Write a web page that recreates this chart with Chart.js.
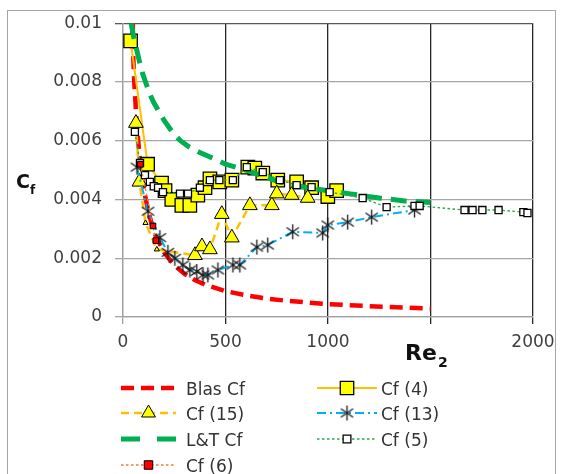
<!DOCTYPE html>
<html>
<head>
<meta charset="utf-8">
<script src="https://cdn.jsdelivr.net/npm/chart.js@4/dist/chart.umd.min.js"></script>
<style>
  html, body { margin: 0; padding: 0; background: #fff; }
  #wrap { position: relative; width: 566px; height: 474px; overflow: hidden; }
  #chart, #keys { position: absolute; left: 0; top: 0; }
  #keys { pointer-events: none; }
  #frame { position: absolute; left: 7px; top: 10px; width: 549px; height: 480px; border: 1px solid #a6a6a6; box-sizing: border-box; pointer-events: none; }
  .t { position: absolute; font-family: "DejaVu Sans", sans-serif; line-height: 1; white-space: nowrap; }
  .ttl { font-weight: bold; color: #111; }
  .key { font-size: 17px; color: #333; }
</style>
</head>
<body>
<div id="wrap">
  <canvas id="chart" width="566" height="474"></canvas>
  <canvas id="keys" width="566" height="474"></canvas>
  <div id="frame"></div>
  <div class="t ttl" style="left:16px; top:172px; font-size:19px;">C</div>
  <div class="t ttl" style="left:30px; top:184px; font-size:12px;">f</div>
  <div class="t ttl" style="left:405px; top:342px; font-size:22px;">Re</div>
  <div class="t ttl" style="left:438px; top:355px; font-size:14px;">2</div>
  <div id="keyText"></div>
</div>
<script>
// Series data (Re2 vs Cf)
const seriesLabels = ['Blas Cf', 'Cf (4)', 'Cf (15)', 'Cf (13)', 'L&T Cf', 'Cf (5)', 'Cf (6)'];

const blasRe = [44, 48, 55, 65, 74, 85, 100, 120, 150, 200, 250, 300, 350, 400, 500, 600, 700, 800, 1000, 1200, 1500];
const blasCf = [0.0100, 0.0092, 0.0080, 0.0068, 0.0060, 0.0052, 0.0044, 0.0037, 0.0029, 0.0022, 0.00176, 0.00147, 0.00126, 0.0011, 0.00088, 0.00074, 0.00063, 0.00055, 0.00044, 0.00037, 0.00029];

const cf4Re = [37, 120, 188, 205, 238, 287, 326, 365, 400, 424, 472, 531, 609, 643, 682, 755, 847, 920, 999, 1042];
const cf4Cf = [0.0094, 0.0052, 0.00456, 0.0043, 0.0040, 0.0038, 0.0038, 0.00415, 0.0044, 0.0047, 0.0046, 0.00466, 0.0051, 0.00507, 0.0049, 0.00466, 0.0046, 0.0044, 0.0041, 0.0043];

const cf15Re = [63, 80, 110, 165, 351, 385, 424, 482, 531, 619, 726, 750, 823, 901];
const cf15Cf = [0.0066, 0.0046, 0.0032, 0.0023, 0.0021, 0.0024, 0.0023, 0.0035, 0.0027, 0.0038, 0.0038, 0.0042, 0.00415, 0.00405];

const cf13Re = [68, 122, 180, 219, 253, 292, 326, 360, 390, 414, 463, 536, 570, 653, 706, 828, 974, 999, 1096, 1213, 1422];
const cf13Cf = [0.0051, 0.0036, 0.0027, 0.0022, 0.0020, 0.00177, 0.0016, 0.00155, 0.00143, 0.00143, 0.0016, 0.00177, 0.00177, 0.00238, 0.00245, 0.0029, 0.00286, 0.00313, 0.00323, 0.0034, 0.00364];

const ltRe = [40, 50, 60, 70, 80, 95, 110, 130, 150, 175, 200, 240, 280, 320, 375, 440, 500, 550, 600, 680, 760, 830, 900, 1000, 1100, 1250, 1375, 1500];
const ltCf = [0.0100, 0.0096, 0.0093, 0.0090, 0.0087, 0.0083, 0.0080, 0.0076, 0.0073, 0.0070, 0.0067, 0.0063, 0.0060, 0.0058, 0.0056, 0.0054, 0.0052, 0.0051, 0.0050, 0.0048, 0.0046, 0.0045, 0.0044, 0.0043, 0.0042, 0.00405, 0.00395, 0.0039];

const cf5Re = [58, 83, 107, 131, 150, 171, 195, 278, 317, 375, 424, 470, 536, 604, 682, 765, 847, 920, 1008, 1169, 1286, 1422, 1447, 1666, 1705, 1753, 1832, 1953, 1973];
const cf5Cf = [0.0063, 0.00524, 0.00483, 0.0046, 0.00445, 0.0044, 0.00425, 0.0042, 0.0042, 0.0044, 0.00466, 0.00466, 0.00466, 0.0051, 0.00493, 0.00466, 0.00449, 0.00442, 0.00425, 0.00405, 0.00374, 0.00378, 0.00378, 0.00364, 0.00364, 0.00364, 0.00364, 0.00357, 0.00354];

const cf6Re = [85, 146, 160];
const cf6Cf = [0.0052, 0.0031, 0.0026];

const xTicks = [0, 500, 1000, 1500, 2000];
const yTicks = [0, 0.002, 0.004, 0.006, 0.008, 0.01];

function pts(xs, ys) {
  return xs.map((x, i) => ({ x: x, y: ys[i] }));
}

// six-armed asterisk marker for Cf (13)
function makeAsterisk(size) {
  const c = document.createElement('canvas');
  c.width = size; c.height = size;
  const g = c.getContext('2d');
  const m = size / 2, r = size / 2 - 1;
  g.strokeStyle = '#1a1a1a';
  g.lineWidth = 1.3;
  [90, 35, 145].forEach(a => {
    const t = a * Math.PI / 180;
    g.beginPath();
    g.moveTo(m - r * Math.cos(t), m - r * Math.sin(t));
    g.lineTo(m + r * Math.cos(t), m + r * Math.sin(t));
    g.stroke();
  });
  return c;
}
const asterisk = makeAsterisk(17);

const ORANGE = '#FFC000';
const GREEN = '#00B050';
const BLUE = '#00B0F0';
const RED = '#FF0000';

const BLAS_DASH = [13, 7];
const LT_DASH = [16, 9];

// Excel series order (legend order)
const series = [
  {
    label: seriesLabels[0], data: pts(blasRe, blasCf),
    borderColor: RED, borderWidth: 4.5,
    segment: { borderDash: () => BLAS_DASH },
    pointRadius: 0
  },
  {
    label: seriesLabels[1], data: pts(cf4Re, cf4Cf),
    borderColor: ORANGE, borderWidth: 2,
    pointStyle: 'rect', pointRadius: 9.5, pointBackgroundColor: '#FFFF00',
    pointBorderColor: '#000', pointBorderWidth: 1.3
  },
  {
    label: seriesLabels[2], data: pts(cf15Re, cf15Cf),
    borderColor: ORANGE, borderWidth: 2.5, borderDash: [8, 5],
    pointStyle: 'triangle', pointRadius: c => (c.dataIndex === 2 || c.dataIndex === 3) ? 3 : 8.5,
    pointBackgroundColor: '#FFFF00', pointBorderColor: '#000', pointBorderWidth: 1
  },
  {
    label: seriesLabels[3], data: pts(cf13Re, cf13Cf),
    borderColor: BLUE, borderWidth: 2, borderDash: [9, 4, 2, 4],
    pointStyle: asterisk, pointRadius: 8
  },
  {
    label: seriesLabels[4], data: pts(ltRe, ltCf),
    borderColor: GREEN, borderWidth: 5,
    segment: { borderDash: () => LT_DASH },
    pointRadius: 0
  },
  {
    label: seriesLabels[5], data: pts(cf5Re, cf5Cf),
    borderColor: '#2BA84A', borderWidth: 1.4, borderDash: [2.5, 2.5],
    pointStyle: 'rect', pointRadius: 5, pointBackgroundColor: '#fff',
    pointBorderColor: '#000', pointBorderWidth: 1.3
  },
  {
    label: seriesLabels[6], data: pts(cf6Re, cf6Cf),
    borderColor: '#ED7D31', borderWidth: 1.3, borderDash: [2.5, 2.5],
    pointStyle: 'rect', pointRadius: 4, pointBackgroundColor: RED,
    pointBorderColor: '#000', pointBorderWidth: 1
  }
];

// Chart.js puts the first dataset on top, so hand them over reversed
new Chart(document.getElementById('chart'), {
  type: 'line',
  data: { datasets: series.slice().reverse() },
  options: {
    responsive: false,
    animation: false,
    layout: { padding: { top: 23, right: 33, left: 0, bottom: 0 } },
    plugins: { legend: { display: false }, tooltip: { enabled: false } },
    scales: {
      x: {
        type: 'linear', min: 0, max: 2000,
        afterBuildTicks: s => { s.ticks = xTicks.map(v => ({ value: v })); },
        afterFit: s => { s.height = 157; },
        ticks: {
          callback: v => (v === 1500 ? '' : String(v)),
          color: '#404040', font: { family: 'DejaVu Sans', size: 17 },
          padding: 8, maxRotation: 0, autoSkip: false
        },
        grid: {
          color: c => (c.tick && c.tick.value === 0 ? '#a0a0a0' : '#262626'),
          lineWidth: 1.3, tickLength: 7
        },
        border: { color: '#a0a0a0', width: 1.3 }
      },
      y: {
        min: 0, max: 0.01,
        afterBuildTicks: s => { s.ticks = yTicks.map(v => ({ value: v })); },
        afterFit: s => { s.width = 123; },
        ticks: {
          callback: v => (v === 0 ? '0' : String(parseFloat(v.toFixed(3)))),
          color: '#404040', font: { family: 'DejaVu Sans', size: 17 },
          padding: 13, autoSkip: false
        },
        grid: {
          color: c => (c.tick && c.tick.value === 0.01 ? '#595959' : '#a6a6a6'),
          lineWidth: 1.3, tickLength: 8
        },
        border: { color: '#a0a0a0', width: 1.3 }
      }
    }
  }
});

// legend: [line start, line end, row y], drawn on its own overlay
const legendPos = [
  [121, 176, 388], [317, 377, 388],
  [121, 176, 413], [317, 377, 413],
  [121, 176, 439], [317, 377, 439],
  [121, 176, 465]
];
const legendMarker = { 'Cf (4)': 9.5, 'Cf (15)': 8, 'Cf (13)': 8, 'Cf (5)': 5.5, 'Cf (6)': 6 };
const legendDash = { 'Blas Cf': BLAS_DASH, 'L&T Cf': [19, 17] };

const kctx = document.getElementById('keys').getContext('2d');
const keyText = document.getElementById('keyText');
series.forEach((ds, i) => {
  const [x0, x1, y] = legendPos[i];
  kctx.save();
  kctx.strokeStyle = ds.borderColor;
  kctx.lineWidth = ds.borderWidth;
  kctx.setLineDash(legendDash[ds.label] || ds.borderDash || []);
  kctx.beginPath();
  kctx.moveTo(x0, y);
  kctx.lineTo(x1, y);
  kctx.stroke();
  kctx.setLineDash([]);
  if (ds.pointStyle) {
    kctx.fillStyle = ds.pointBackgroundColor || '#000';
    kctx.strokeStyle = ds.pointBorderColor || '#000';
    kctx.lineWidth = ds.pointBorderWidth || 1;
    Chart.helpers.drawPoint(kctx, {
      pointStyle: ds.pointStyle, radius: legendMarker[ds.label],
      rotation: 0, borderWidth: ds.pointBorderWidth || 1
    }, (x0 + x1) / 2, y);
  }
  kctx.restore();

  const el = document.createElement('div');
  el.className = 't key';
  el.style.left = (x1 + (x0 < 200 ? 10 : 4)) + 'px';
  el.style.top = (y - 7.5) + 'px';
  el.textContent = ds.label;
  keyText.appendChild(el);
});
</script>
</body>
</html>
